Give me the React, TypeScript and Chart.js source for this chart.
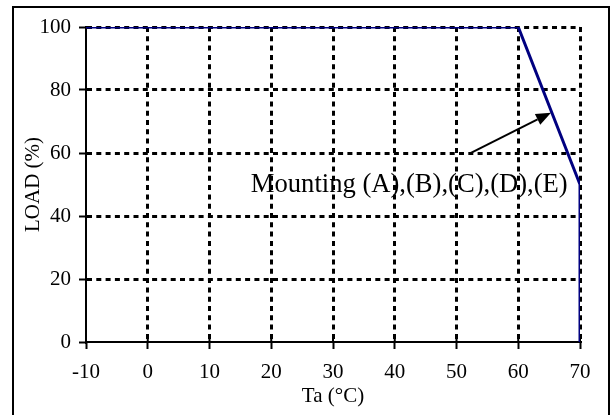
import React, { useEffect, useRef } from "react";
import { Chart, registerables } from "chart.js";

Chart.register(...registerables);

// ---- data ----
const temperatures = [-10, 60, 70, 70];
const loads = [100, 100, 50, 0];
const xTicks = [-10, 0, 10, 20, 30, 40, 50, 60, 70];
const yTicks = [0, 20, 40, 60, 80, 100];
const xTitle = "Ta (°C)";
const yTitle = "LOAD (%)";
const annotationText = "Mounting (A),(B),(C),(D),(E)";
// annotation anchors in data units
const labelAnchor = { x: 16.7, y: 47.5 };
const arrowFrom = { x: 52.1, y: 59.8 };
const arrowTo = { x: 65.3, y: 72.8 };

const FONT = '"Liberation Serif", "Times New Roman", serif';

const decorPlugin = {
  id: "decor",
  beforeDatasetsDraw(chart: any) {
    const { ctx, chartArea, scales } = chart;
    const x = scales.x;
    const y = scales.y;
    ctx.save();
    ctx.strokeStyle = "#000";
    ctx.lineWidth = 2;
    ctx.setLineDash([]);
    ctx.beginPath();
    for (const v of xTicks) {
      const px = x.getPixelForValue(v);
      ctx.moveTo(px, chartArea.bottom);
      ctx.lineTo(px, chartArea.bottom - 5);
    }
    for (const v of yTicks) {
      const py = y.getPixelForValue(v);
      ctx.moveTo(chartArea.left, py);
      ctx.lineTo(chartArea.left + 4, py);
    }
    ctx.stroke();
    ctx.restore();
  },
  afterDatasetsDraw(chart: any) {
    const { ctx, scales } = chart;
    const x = scales.x;
    const y = scales.y;
    ctx.save();
    ctx.fillStyle = "#000";
    ctx.font = `26.6px ${FONT}`;
    ctx.textBaseline = "alphabetic";
    ctx.textAlign = "left";
    ctx.fillText(
      annotationText,
      x.getPixelForValue(labelAnchor.x),
      y.getPixelForValue(labelAnchor.y)
    );
    const x0 = x.getPixelForValue(arrowFrom.x);
    const y0 = y.getPixelForValue(arrowFrom.y);
    const x1 = x.getPixelForValue(arrowTo.x);
    const y1 = y.getPixelForValue(arrowTo.y);
    const ang = Math.atan2(y1 - y0, x1 - x0);
    const headLen = 15;
    const headHalf = 6;
    const bx = x1 - headLen * Math.cos(ang);
    const by = y1 - headLen * Math.sin(ang);
    ctx.strokeStyle = "#000";
    ctx.lineWidth = 2;
    ctx.setLineDash([]);
    ctx.beginPath();
    ctx.moveTo(x0, y0);
    ctx.lineTo(bx, by);
    ctx.stroke();
    ctx.beginPath();
    ctx.moveTo(x1, y1);
    ctx.lineTo(bx + headHalf * Math.sin(ang), by - headHalf * Math.cos(ang));
    ctx.lineTo(bx - headHalf * Math.sin(ang), by + headHalf * Math.cos(ang));
    ctx.closePath();
    ctx.fill();
    ctx.restore();
  },
  afterDraw(chart: any) {
    const { ctx } = chart;
    ctx.save();
    ctx.strokeStyle = "#000";
    ctx.lineWidth = 2;
    ctx.setLineDash([]);
    ctx.strokeRect(13, 7, 596, 420);
    ctx.restore();
  },
};

export default function App() {
  const ref = useRef<HTMLCanvasElement>(null);

  useEffect(() => {
    if (!ref.current) return;
    const points = temperatures.map((t, i) => ({ x: t, y: loads[i] }));
    const makeGrid = (axisValue: number) => ({
      color: (c: any) =>
        c.tick && c.tick.value === axisValue ? "rgba(0,0,0,0)" : "#000",
      lineWidth: 3,
      tickLength: 7,
      tickColor: "#000",
      tickWidth: 2,
      tickBorderDash: [],
    });
    const borderCommon = {
      display: true,
      color: "#000",
      width: 2,
      dash: [5, 4.3],
    };
    const chart = new Chart(ref.current, {
      type: "line",
      data: {
        datasets: [
          {
            data: points,
            borderColor: "#000080",
            borderWidth: 3,
            pointRadius: 0,
            tension: 0,
            fill: false,
          },
        ],
      },
      options: {
        animation: false,
        responsive: false,
        devicePixelRatio: 1,
        layout: { padding: { left: 12, top: 27, right: 31, bottom: 0 } },
        plugins: {
          legend: { display: false },
          tooltip: { enabled: false },
        },
        scales: {
          x: {
            type: "linear",
            min: -10,
            max: 70,
            afterBuildTicks: (s: any) => {
              s.ticks = xTicks.map((v) => ({ value: v }));
            },
            afterFit: (s: any) => {
              s.height = 73;
            },
            ticks: {
              color: "#000",
              font: { family: FONT, size: 21 },
              padding: 11,
              maxRotation: 0,
            },
            grid: makeGrid(-10),
            border: borderCommon,
            title: {
              display: true,
              text: xTitle,
              color: "#000",
              font: { family: FONT, size: 21 },
              padding: { top: 0, bottom: 6.4 },
            },
          },
          y: {
            type: "linear",
            min: 0,
            max: 100,
            afterBuildTicks: (s: any) => {
              s.ticks = yTicks.map((v) => ({ value: v }));
            },
            afterFit: (s: any) => {
              s.width = 74;
            },
            ticks: {
              color: "#000",
              font: { family: FONT, size: 21 },
              padding: 8,
            },
            grid: makeGrid(0),
            border: borderCommon,
            title: {
              display: true,
              text: yTitle,
              color: "#000",
              font: { family: FONT, size: 21 },
              padding: { top: 8.4, bottom: 0 },
            },
          },
        },
      },
      plugins: [decorPlugin],
    } as any);
    return () => chart.destroy();
  }, []);

  return (
    <div
      style={{
        position: "absolute",
        left: 0,
        top: 0,
        width: 611,
        height: 415,
        background: "#fff",
      }}
    >
      <canvas ref={ref} width={611} height={415} style={{ display: "block" }} />
    </div>
  );
}
